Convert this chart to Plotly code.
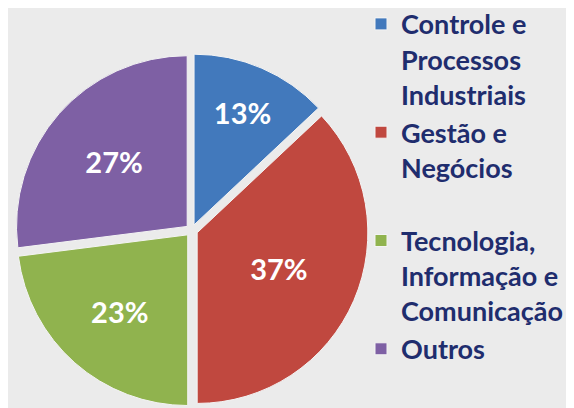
import plotly.graph_objects as go

labels = ['Controle e<br>Processos<br>Industriais',
          'Gestão e<br>Negócios<br> ',
          'Tecnologia,<br>Informação e<br>Comunicação',
          'Outros']
values = [13, 37, 23, 27]
colors = ['#4279BC', '#C0483F', '#90B34E', '#7E60A4']

fig = go.Figure()

fig.add_trace(go.Pie(labels=labels, values=values,
                     sort=False,
                     direction='clockwise',
                     rotation=0,
                     pull=[0.035] * 4,
                     marker={'colors': colors, 'line': {'color': '#F4F4F4', 'width': 1}},
                     textinfo='percent',
                     textposition='inside',
                     insidetextorientation='horizontal',
                     textfont={'family': 'Lato', 'size': 29, 'color': 'white', 'weight': 'bold'},
                     domain={'x': [0.008, 0.632], 'y': [0.022, 0.888]},
                     hoverinfo='label+percent'
                     ))

fig.update_layout(width=574, height=408,
                  margin=dict(t=0, l=0, r=0, b=0, autoexpand=False),
                  paper_bgcolor='#EBEBEB',
                  plot_bgcolor='#EBEBEB',
                  legend={'x': 0.615, 'y': 1.02, 'xanchor': 'left', 'yanchor': 'top',
                          'valign': 'top',
                          'itemwidth': 30,
                          'maxheight': 420,
                          'font': {'family': 'Lato', 'size': 27, 'color': '#1F2D6E', 'weight': 'bold'},
                          'bgcolor': 'rgba(0,0,0,0)'}
                  )

fig.write_html("out.html")
